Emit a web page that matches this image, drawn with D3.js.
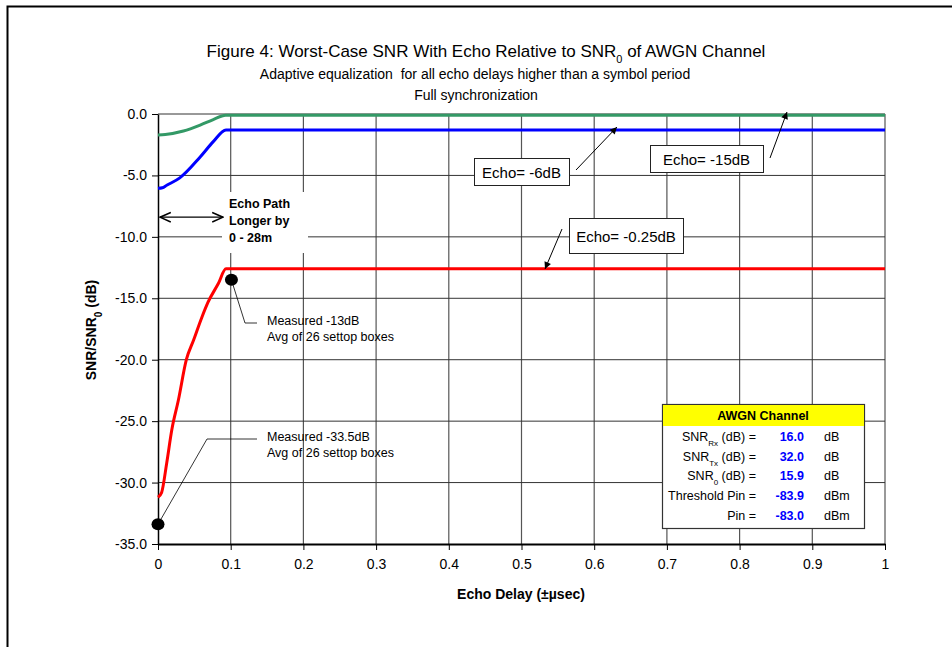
<html>
  <head>
    <meta charset="utf-8">
    <script type="text/javascript" src="https://d3js.org/d3.v7.min.js"></script>
    <style>
      body { margin: 0; background: #fff; }
      text { font-family: Arial, "Liberation Sans", sans-serif; }
    </style>
  </head>
  <body>
    <script>
        // echo delay (usec) and SNR/SNR0 (dB)
        var greenX = [0, 0.01, 0.035, 0.058, 0.076, 0.093, 1],
            greenY = [-1.7, -1.66, -1.38, -0.9, -0.45, -0.1, -0.1];
        var blueX = [0, 0.006, 0.012, 0.03, 0.058, 0.076, 0.0935, 1],
            blueY = [-6.05, -6.0, -5.8, -5.2, -3.5, -2.25, -1.3, -1.3];
        var redX = [0, 0.005, 0.012, 0.019, 0.028, 0.039, 0.049, 0.06, 0.069, 0.083, 0.0935, 1],
            redY = [-31.2, -30.8, -28.4, -25.7, -23.3, -20.0, -18.4, -16.6, -15.3, -13.8, -12.6, -12.6];

        // measured points
        var measuredX = [0.101, 0],
            measuredY = [-13.5, -33.4],
            measuredText = [["Measured -13dB", "Avg of 26 settop boxes"], ["Measured -33.5dB", "Avg of 26 settop boxes"]];

        var xTicks = [0, 0.1, 0.2, 0.3, 0.4, 0.5, 0.6, 0.7, 0.8, 0.9, 1],
            yTicks = [0, -5, -10, -15, -20, -25, -30, -35];

        // AWGN table
        var awgnLabels = [["SNR", "Rx", " (dB) ="], ["SNR", "Tx", " (dB) ="], ["SNR", "0", " (dB) ="], ["Threshold Pin =", "", ""], ["Pin =", "", ""]],
            awgnValues = ["16.0", "32.0", "15.9", "-83.9", "-83.0"],
            awgnUnits = ["dB", "dB", "dB", "dBm", "dBm"];

        var width = 952, height = 647;
        var plotLeft = 158, plotRight = 885, plotTop = 114, plotBottom = 544;

        var x = d3.scaleLinear().domain([0, 1]).range([plotLeft, plotRight]);
        var y = d3.scaleLinear().domain([-35, 0]).range([plotBottom, plotTop]);

        var svg = d3.select("body").append("svg")
            .attr("width", width)
            .attr("height", height);

        var defs = svg.append("defs");
        defs.append("marker").attr("id", "fill-arrow")
            .attr("viewBox", "0 0 10 10").attr("refX", 10).attr("refY", 5)
            .attr("markerWidth", 9).attr("markerHeight", 7).attr("markerUnits", "userSpaceOnUse")
            .attr("orient", "auto")
          .append("path").attr("d", "M0,0L10,5L0,10z").attr("fill", "#000");
        defs.append("marker").attr("id", "open-arrow")
            .attr("viewBox", "0 0 10 10").attr("refX", 9).attr("refY", 5)
            .attr("markerWidth", 12).attr("markerHeight", 12).attr("markerUnits", "userSpaceOnUse")
            .attr("orient", "auto-start-reverse")
          .append("path").attr("d", "M0,1L9,5L0,9").attr("fill", "none").attr("stroke", "#000").attr("stroke-width", 1.3);

        // outer frame
        svg.append("rect")
            .attr("x", 7.5).attr("y", 6.5)
            .attr("width", 1000).attr("height", 700)
            .attr("fill", "none").attr("stroke", "#000").attr("stroke-width", 2);

        // titles
        var title = svg.append("text").attr("x", 486).attr("y", 57)
            .attr("text-anchor", "middle").style("font-size", "17px");
        title.append("tspan").text("Figure 4: Worst-Case SNR With Echo Relative to SNR");
        title.append("tspan").attr("baseline-shift", "sub").style("font-size", "11px").text("0");
        title.append("tspan").text(" of AWGN Channel");
        svg.append("text").attr("x", 475).attr("y", 79).attr("text-anchor", "middle")
            .style("font-size", "14px").style("white-space", "pre")
            .text("Adaptive equalization  for all echo delays higher than a symbol period");
        svg.append("text").attr("x", 476).attr("y", 100).attr("text-anchor", "middle")
            .style("font-size", "14px").text("Full synchronization");

        // grid
        svg.append("g").selectAll("line").data(xTicks.slice(1)).enter().append("line")
            .attr("x1", function(d) { return x(d); }).attr("x2", function(d) { return x(d); })
            .attr("y1", plotTop).attr("y2", plotBottom)
            .attr("stroke", "#555").attr("stroke-width", 1.2);
        svg.append("g").selectAll("line").data(yTicks.slice(0, -1)).enter().append("line")
            .attr("x1", plotLeft).attr("x2", plotRight)
            .attr("y1", function(d) { return y(d); }).attr("y2", function(d) { return y(d); })
            .attr("stroke", "#333").attr("stroke-width", 1);

        // axes
        var yAxis = svg.append("g").attr("transform", "translate(" + plotLeft + ",0)")
            .call(d3.axisLeft(y).tickValues(yTicks).tickFormat(function(d) { return d.toFixed(1); }).tickSize(6).tickSizeOuter(0).tickPadding(5));
        var xAxis = svg.append("g").attr("transform", "translate(0," + plotBottom + ")")
            .call(d3.axisBottom(x).tickValues(xTicks).tickFormat(function(d) { return d === 0 || d === 1 ? d : d.toFixed(1); }).tickSize(6).tickSizeOuter(0).tickPadding(9));
        yAxis.select(".domain").attr("stroke-width", 1.5);
        xAxis.select(".domain").attr("stroke-width", 2);
        svg.selectAll(".tick text").style("font-size", "14px").attr("fill", "#000")
            .style("font-family", "Arial, 'Liberation Sans', sans-serif");

        // axis labels
        svg.append("text").attr("x", 521).attr("y", 599).attr("text-anchor", "middle")
            .style("font-size", "14px").style("font-weight", "bold").text("Echo Delay (\u00b1\u00b5sec)");
        var yl = svg.append("text").attr("transform", "translate(96,330) rotate(-90)")
            .attr("text-anchor", "middle").style("font-size", "14px").style("font-weight", "bold");
        yl.append("tspan").text("SNR/SNR");
        yl.append("tspan").attr("baseline-shift", "sub").style("font-size", "10px").text("0");
        yl.append("tspan").text(" (dB)");

        // echo path box
        svg.append("rect").attr("x", 222).attr("y", 192).attr("width", 86).attr("height", 61).attr("fill", "#fff");
        svg.append("line")
            .attr("x1", x(0) + 2).attr("x2", 223).attr("y1", y(-8.4)).attr("y2", y(-8.4))
            .attr("stroke", "#000").attr("stroke-width", 1.2)
            .attr("marker-start", "url(#open-arrow)").attr("marker-end", "url(#open-arrow)");
        svg.append("text").attr("x", 229).attr("y", 208).style("font-size", "12.5px").style("font-weight", "bold")
            .selectAll("tspan").data(["Echo Path", "Longer by", "0 - 28m"]).enter().append("tspan")
            .attr("x", 229).attr("dy", function(d, i) { return i ? 17 : 0; }).text(function(d) { return d; });

        // curves
        var line = d3.line().curve(d3.curveMonotoneX)
            .x(function(d) { return x(d[0]); }).y(function(d) { return y(d[1]); });
        var series = [
            {xs: greenX, ys: greenY, color: "#339966"},
            {xs: blueX, ys: blueY, color: "#0000ff"},
            {xs: redX, ys: redY, color: "#ff0000"}
        ];
        svg.append("g").selectAll("path").data(series).enter().append("path")
            .attr("d", function(s) { return line(d3.zip(s.xs, s.ys)); })
            .attr("fill", "none").attr("stroke", function(s) { return s.color; })
            .attr("stroke-width", 3).attr("stroke-linejoin", "round");

        // measured points and leaders
        var elbow = [[245, 323], [207, 439]];
        measuredX.forEach(function(mx, i) {
            svg.append("polyline")
                .attr("points", [[x(mx), y(measuredY[i])], elbow[i], [257, elbow[i][1]]].join(" "))
                .attr("fill", "none").attr("stroke", "#000").attr("stroke-width", 0.8);
            svg.append("ellipse").attr("cx", x(mx)).attr("cy", y(measuredY[i]))
                .attr("rx", 6.5).attr("ry", 6).attr("fill", "#000");
            svg.append("text").style("font-size", "12.5px")
                .selectAll("tspan").data(measuredText[i]).enter().append("tspan")
                .attr("x", 267).attr("y", function(d, j) { return elbow[i][1] + 2 + j * 16; })
                .text(function(d) { return d; });
        });

        // echo labels
        var echoBoxes = [
            {text: "Echo= -6dB", x: 474, y: 158, w: 95, h: 27, from: [576, 170], to: [617, 127]},
            {text: "Echo= -15dB", x: 650, y: 145, w: 113, h: 27, from: [770, 158], to: [787, 112]},
            {text: "Echo= -0.25dB", x: 569, y: 218, w: 114, h: 35, from: [562, 229], to: [545, 269]}
        ];
        echoBoxes.forEach(function(b) {
            svg.append("line").attr("x1", b.from[0]).attr("y1", b.from[1]).attr("x2", b.to[0]).attr("y2", b.to[1])
                .attr("stroke", "#000").attr("stroke-width", 1).attr("marker-end", "url(#fill-arrow)");
            svg.append("rect").attr("x", b.x + 0.5).attr("y", b.y + 0.5).attr("width", b.w).attr("height", b.h)
                .attr("fill", "#fff").attr("stroke", "#222").attr("stroke-width", 1);
            svg.append("text").attr("x", b.x + b.w / 2).attr("y", b.y + b.h / 2 + 6)
                .attr("text-anchor", "middle").style("font-size", "15px").text(b.text);
        });

        // AWGN table
        var tb = svg.append("g");
        tb.append("rect").attr("x", 662.5).attr("y", 404.5).attr("width", 202).attr("height", 124)
            .attr("fill", "#fff").attr("stroke", "#333").attr("stroke-width", 1.2);
        tb.append("rect").attr("x", 663).attr("y", 405).attr("width", 201).attr("height", 21).attr("fill", "#ffff00");
        tb.append("text").attr("x", 763).attr("y", 420).attr("text-anchor", "middle")
            .style("font-size", "12.5px").style("font-weight", "bold").text("AWGN Channel");
        awgnLabels.forEach(function(lab, i) {
            var yy = 441 + i * 19.7;
            var t = tb.append("text").attr("x", 756).attr("y", yy).attr("text-anchor", "end").style("font-size", "12.5px");
            t.append("tspan").text(lab[0]);
            if (lab[1]) t.append("tspan").attr("baseline-shift", "sub").style("font-size", "8px").text(lab[1]);
            if (lab[2]) t.append("tspan").text(lab[2]);
            tb.append("text").attr("x", 804).attr("y", yy).attr("text-anchor", "end")
                .style("font-size", "12.5px").style("font-weight", "bold").attr("fill", "#0000ff").text(awgnValues[i]);
            tb.append("text").attr("x", 824).attr("y", yy).style("font-size", "12.5px").text(awgnUnits[i]);
        });
    </script>
  </body>
</html>
